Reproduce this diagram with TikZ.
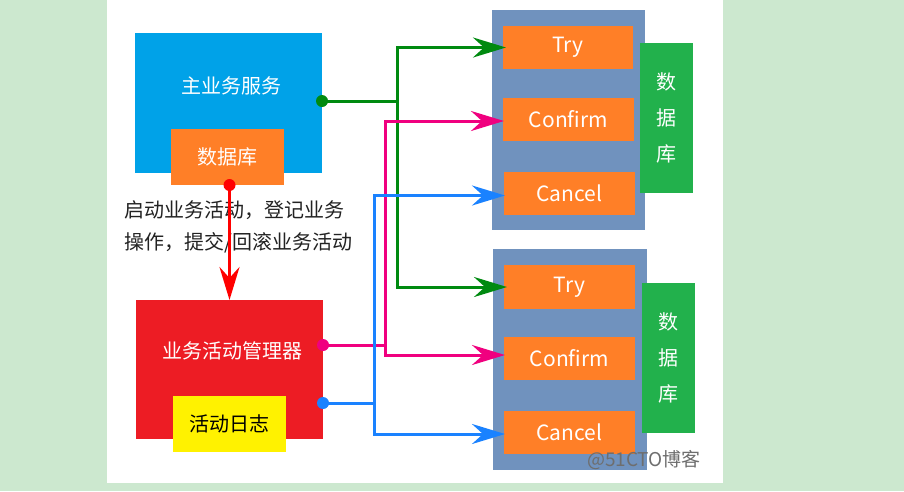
\documentclass[tikz,border=0pt]{standalone}
\usepackage{fontspec}
\setmainfont{Noto Sans CJK SC}
\usetikzlibrary{arrows.meta}
\definecolor{bgg}{HTML}{CCE8CF}
\definecolor{mainblue}{HTML}{00A2E8}
\definecolor{orng}{HTML}{FF7F27}
\definecolor{redbox}{HTML}{ED1C24}
\definecolor{yel}{HTML}{FFF200}
\definecolor{dbgreen}{HTML}{22B14C}
\definecolor{cont}{HTML}{7092BE}
\definecolor{lgreen}{HTML}{008A10}
\definecolor{lpink}{HTML}{F0007F}
\definecolor{lblue}{HTML}{1A82FF}
\definecolor{txt}{HTML}{222222}
\definecolor{wmark}{HTML}{6E6E6E}
\begin{document}
\begin{tikzpicture}[x=1pt,y=-1pt,
  box/.style n args={3}{fill=#1,minimum width=#2pt,minimum height=#3pt,inner sep=0pt,outer sep=0pt,text=white},
  lbl/.style={font=\fontsize{20}{24}\selectfont,inner sep=0pt},
  elbl/.style={font=\fontsize{21}{24}\selectfont,inner sep=0pt},
  conn/.style={line width=3pt,draw=#1},
  tip/.style={-{Stealth[length=33pt,width=20pt,inset=11pt]}},
  dot/.style={circle,fill=#1,minimum size=12pt,inner sep=0pt}]
\useasboundingbox (0,0) rectangle (904,491);
\fill[bgg] (0,0) rectangle (904,491);
\fill[white] (107,0) rectangle (723,483);

% left column
\node[box={mainblue}{187}{140}] (main) at (228.5,103) {};
\node[lbl,text=white] (mainT) at (231,86) {主业务服务};
\node[box={orng}{113}{56},lbl] (db0) at (227.5,157) {数据库};

\node[box={redbox}{187}{139}] (mgr) at (229.5,369.5) {};
\node[lbl,text=white] (mgrT) at (232,351) {业务活动管理器};
\node[box={yel}{113}{56},lbl,text=black] (log) at (229.5,424) {活动日志};

\node[lbl,text=txt,anchor=west] (t1) at (124,210) {启动业务活动，登记业务};
\node[lbl,text=txt,anchor=west] (t2) at (124,243) {操作，提交/回滚业务活动};

% right groups
\node[box={cont}{153}{220}] (c1) at (568.5,120) {};
\node[box={orng}{130}{43},elbl] (try1) at (568,47.5) {Try};
\node[box={orng}{131}{43},elbl] (conf1) at (568.5,119.5) {Confirm};
\node[box={orng}{131}{43},elbl] (canc1) at (569.5,193.5) {Cancel};
\node[box={dbgreen}{53}{150},lbl,align=center,font=\fontsize{20}{36}\selectfont] (dbr1) at (666.5,118) {数\\据\\库};

\node[box={cont}{154}{221}] (c2) at (570,359.5) {};
\node[box={orng}{131}{44},elbl] (try2) at (569.5,287) {Try};
\node[box={orng}{131}{43},elbl] (conf2) at (569.5,358.5) {Confirm};
\node[box={orng}{131}{43},elbl] (canc2) at (569.5,432.5) {Cancel};
\node[box={dbgreen}{53}{150},lbl,align=center,font=\fontsize{20}{36}\selectfont] (dbr2) at (668.5,358) {数\\据\\库};

\node[inner sep=0pt,text=wmark,font=\fontsize{19}{22}\selectfont] (wm) at (644,460) {@51CTO博客};

% junctions
\coordinate (gj) at (397,101);
\coordinate (pj) at (385.5,345);
\coordinate (bj) at (374,403);
\coordinate (rs) at ([xshift=2pt]db0.south);

% red arrow
\draw[conn=red,tip] (rs) -- (rs |- mgr.north);
\node[dot=red] (rd) at (rs) {};

% green
\draw[conn=lgreen] (main.east |- gj) -- (gj);
\draw[conn=lgreen,tip] (gj) |- ([xshift=3pt]try1.west);
\draw[conn=lgreen,tip] (gj) |- ([xshift=3pt]try2.west);
\node[dot=lgreen] (gd) at (main.east |- gj) {};

% pink
\draw[conn=lpink] (mgr.east |- pj) -- (pj);
\draw[conn=lpink,tip] (pj) |- ([xshift=1pt,yshift=-1.5pt]conf1.west);
\draw[conn=lpink,tip] (pj) |- ([xshift=1pt,yshift=3.5pt]conf2.west);
\node[dot=lpink] (pd) at (mgr.east |- pj) {};

% blue
\draw[conn=lblue] (mgr.east |- bj) -- (bj);
\draw[conn=lblue,tip] (bj) |- ([xshift=1pt,yshift=-2pt]canc1.west);
\draw[conn=lblue,tip] (bj) |- ([xshift=1pt,yshift=-1.5pt]canc2.west);
\node[dot=lblue] (bd) at (mgr.east |- bj) {};
\end{tikzpicture}
\end{document}
